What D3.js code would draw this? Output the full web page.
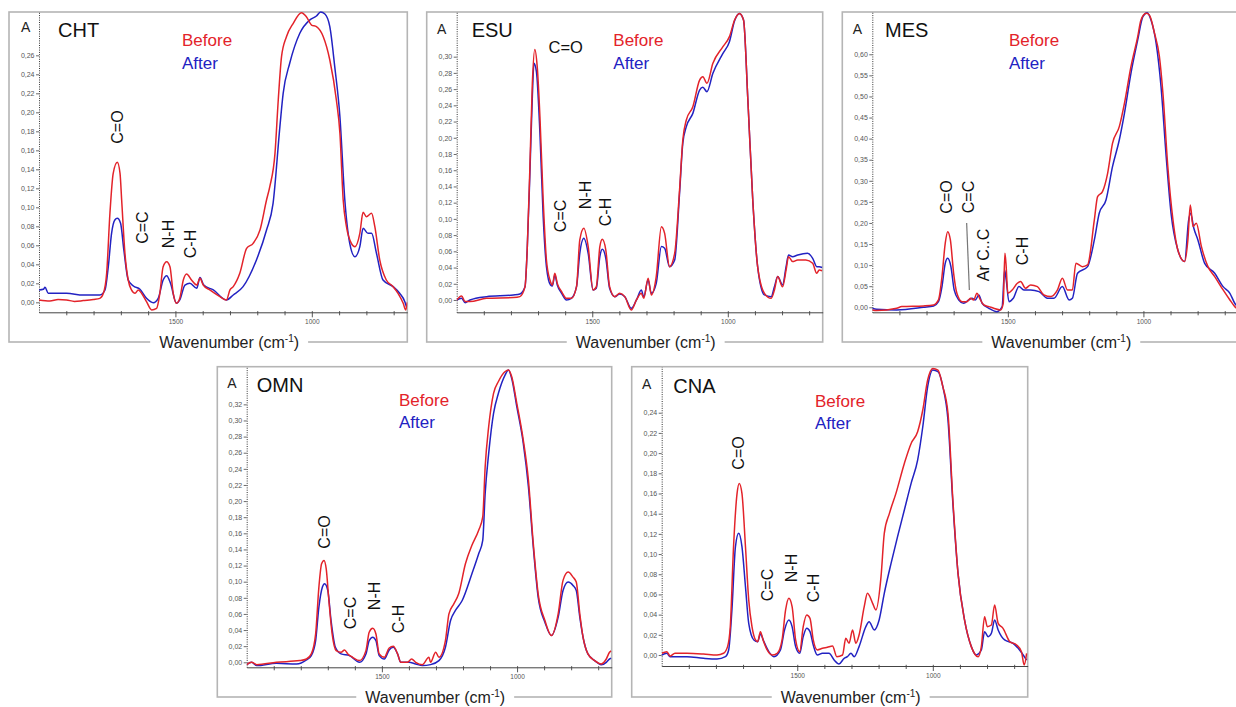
<!DOCTYPE html>
<html><head><meta charset="utf-8">
<script src="https://cdn.jsdelivr.net/npm/d3@7"></script>
<style>body{margin:0;background:#fff;} svg{display:block;font-family:"Liberation Sans",Arial,Helvetica,sans-serif;}</style>
</head><body><svg id="c" width="1236" height="707"></svg>
<script>
// ---------------- DATA (wavenumber cm-1, absorbance) ----------------
const chtBefore = [[2000,0.0025],[1960,0.0014],[1930,0.003],[1899,0.0025],[1870,0.001],[1838,0.0018],[1801,0.003],[1777,0.0042],[1764,0.0095],[1752,0.0305],[1740,0.0937],[1728,0.1358],[1713,0.1474],[1703,0.1358],[1697,0.1077],[1685,0.0516],[1673,0.0235],[1661,0.013],[1648,0.0095],[1636,0.013],[1624,0.0095],[1606,0.0007],[1587,-0.008],[1569,-0.0063],[1557,0.0095],[1545,0.0375],[1532,0.0428],[1520,0.0375],[1508,0.0095],[1496,-0.001],[1484,0.0042],[1471,0.0235],[1459,0.0298],[1441,0.0235],[1422,0.0182],[1410,0.0253],[1398,0.0182],[1374,0.013],[1337,0.006],[1313,0.0025],[1300,0.013],[1288,0.0165],[1264,0.0305],[1239,0.0568],[1215,0.0621],[1190,0.0761],[1166,0.1077],[1154,0.1218],[1135,0.1568],[1123,0.213],[1111,0.2586],[1093,0.2796],[1068,0.2937],[1038,0.3049],[1020,0.3007],[1001,0.2919],[983,0.2902],[958,0.2796],[934,0.2551],[910,0.213],[897,0.1779],[885,0.1077],[873,0.0796],[855,0.0621],[842,0.0586],[824,0.0726],[812,0.0947],[800,0.0902],[781,0.0937],[769,0.0796],[751,0.0446],[727,0.0235],[702,0.0165],[684,0.0095],[665,-0.001],[656,-0.008],[650,0.0]];
const chtAfter = [[2000,0.013],[1984,0.0137],[1978,0.0158],[1966,0.0095],[1899,0.0095],[1838,0.0077],[1777,0.0077],[1758,0.013],[1746,0.0375],[1734,0.0726],[1722,0.0867],[1713,0.0884],[1701,0.0832],[1689,0.0551],[1673,0.0235],[1654,0.0172],[1630,0.0137],[1606,0.0042],[1581,-0.0004],[1563,0.0042],[1545,0.0235],[1532,0.0281],[1518,0.02],[1496,-0.001],[1484,0.0025],[1465,0.0182],[1447,0.02],[1422,0.0147],[1410,0.026],[1396,0.0182],[1361,0.013],[1313,0.0025],[1288,0.0077],[1252,0.0165],[1203,0.0446],[1166,0.0761],[1142,0.1042],[1117,0.185],[1105,0.22],[1081,0.2516],[1044,0.2832],[1007,0.2973],[983,0.3014],[968,0.3056],[952,0.3035],[934,0.2902],[916,0.2481],[897,0.1954],[879,0.1077],[861,0.0621],[842,0.0481],[824,0.0586],[812,0.0779],[794,0.0726],[781,0.0726],[763,0.0516],[739,0.0235],[702,0.0165],[678,0.0095],[659,0.0007],[653,-0.0046]];

const esuBefore = [[2000,0],[1982,0.0049],[1969,-0.002],[1951,-0.002],[1890,0.002],[1791,0.0029],[1767,0.0041],[1748,0.0164],[1740,0.0616],[1730,0.1644],[1721,0.2671],[1712,0.309],[1703,0.2877],[1693,0.226],[1681,0.1233],[1669,0.0493],[1656,0.0247],[1647,0.0185],[1638,0.0329],[1629,0.0205],[1613,0.0103],[1595,0.002],[1577,0.002],[1558,0.0164],[1546,0.074],[1531,0.0884],[1515,0.0658],[1497,0.0123],[1485,0.0164],[1472,0.0658],[1463,0.0748],[1450,0.0616],[1436,0.0164],[1417,0.0041],[1399,0.0082],[1380,0.0041],[1356,-0.0123],[1337,0],[1319,0.0082],[1310,0.002],[1294,0.0267],[1282,0.0062],[1264,0.0288],[1245,0.0904],[1233,0.0822],[1215,0.0411],[1196,0.0575],[1178,0.1356],[1166,0.1973],[1153,0.2219],[1129,0.2384],[1104,0.2712],[1092,0.2753],[1077,0.2671],[1055,0.2918],[1018,0.3123],[994,0.3247],[975,0.3452],[957,0.3534],[942,0.3452],[926,0.2466],[908,0.1233],[890,0.0411],[865,0.0082],[840,0.002],[828,0.0123],[816,0.0288],[798,0.0164],[785,0.037],[776,0.0534],[761,0.0473],[742,0.0493],[712,0.0493],[687,0.0452],[672,0.0329],[663,0.037],[652,0.036]];
const esuAfter = [[2000,0],[1982,0.002],[1969,-0.0033],[1951,0],[1890,0.0041],[1791,0.0062],[1767,0.0074],[1748,0.0164],[1740,0.0616],[1730,0.1562],[1721,0.2507],[1715,0.2918],[1706,0.2815],[1693,0.2055],[1681,0.1027],[1669,0.0411],[1654,0.0185],[1647,0.0173],[1638,0.0308],[1629,0.0185],[1613,0.0082],[1595,0],[1577,0.002],[1558,0.0164],[1546,0.0575],[1531,0.076],[1515,0.0575],[1497,0.0123],[1485,0.0144],[1472,0.0534],[1463,0.0625],[1450,0.0514],[1436,0.0144],[1417,0.0041],[1399,0.0074],[1380,0.0041],[1356,-0.0103],[1337,0],[1319,0.0123],[1310,0.0041],[1294,0.0247],[1282,0.0082],[1264,0.0205],[1245,0.0658],[1233,0.0637],[1215,0.0411],[1196,0.0493],[1178,0.1315],[1166,0.1932],[1153,0.2137],[1129,0.2301],[1104,0.2589],[1092,0.2622],[1077,0.2569],[1055,0.2795],[1018,0.3041],[994,0.3185],[975,0.3444],[957,0.3534],[942,0.3452],[926,0.2466],[908,0.1233],[890,0.0411],[865,0.0062],[840,0.0041],[828,0.0164],[816,0.0288],[798,0.0185],[785,0.0411],[776,0.0555],[761,0.0534],[742,0.0555],[706,0.0575],[687,0.0514],[672,0.0411],[663,0.0411],[652,0.04]];

const mesBefore = [[2000,-0.0063],[1984,-0.0079],[1910,-0.0024],[1891,0.0016],[1811,0.0032],[1774,0.0055],[1756,0.0174],[1743,0.0727],[1731,0.1518],[1722,0.1794],[1712,0.1597],[1700,0.0806],[1688,0.0332],[1669,0.0134],[1651,0.0134],[1638,0.0213],[1626,0.0174],[1614,0.0332],[1604,0.0213],[1589,0.0055],[1570,0.0016],[1552,-0.0024],[1527,-0.0063],[1517,0.0095],[1511,0.1281],[1507,0.1043],[1500,0.0332],[1484,0.0411],[1465,0.0569],[1453,0.0609],[1435,0.0451],[1416,0.053],[1391,0.049],[1367,0.0292],[1342,0.0253],[1317,0.0411],[1299,0.0688],[1280,0.0411],[1262,0.0411],[1249,0.1043],[1225,0.0964],[1206,0.1004],[1181,0.2071],[1169,0.2625],[1151,0.2743],[1132,0.3178],[1114,0.3889],[1089,0.4285],[1070,0.4838],[1046,0.5708],[1021,0.6419],[1009,0.6814],[990,0.6972],[978,0.6933],[959,0.6498],[941,0.5945],[928,0.5075],[910,0.3336],[891,0.2071],[873,0.136],[848,0.1083],[836,0.1597],[827,0.2427],[817,0.1913],[805,0.1992],[786,0.1439],[762,0.0964],[737,0.0727],[706,0.0411],[681,0.0174],[663,0.0016],[650,-0.005]];
const mesAfter = [[2000,-0.0024],[1984,-0.0047],[1910,-0.0063],[1811,0],[1774,0.0032],[1756,0.0134],[1743,0.049],[1731,0.1043],[1722,0.1162],[1710,0.0964],[1698,0.0411],[1681,0.0174],[1663,0.0095],[1644,0.0174],[1632,0.0213],[1620,0.0174],[1607,0.0292],[1595,0.0095],[1570,-0.0024],[1540,-0.0103],[1521,0.0016],[1512,0.0885],[1506,0.0648],[1496,0.0134],[1480,0.0213],[1459,0.049],[1441,0.0411],[1416,0.0411],[1385,0.0372],[1354,0.0213],[1330,0.0213],[1299,0.049],[1274,0.0174],[1262,0.0213],[1243,0.0806],[1206,0.0964],[1181,0.1597],[1163,0.2229],[1138,0.2545],[1114,0.3336],[1089,0.3968],[1070,0.4601],[1046,0.5549],[1021,0.634],[1002,0.6893],[986,0.6988],[972,0.6814],[953,0.6261],[935,0.5233],[916,0.3573],[898,0.2229],[873,0.136],[848,0.1083],[833,0.2071],[826,0.2229],[814,0.1874],[799,0.1597],[774,0.1043],[737,0.0806],[706,0.049],[681,0.0332],[663,0.0095],[650,0.0]];

const omnBefore = [[2000,-0.0029],[1982,0],[1963,-0.0029],[1890,0],[1804,0.0021],[1779,0.0041],[1761,0.0104],[1745,0.0352],[1733,0.0933],[1723,0.1223],[1714,0.1264],[1706,0.1161],[1696,0.0767],[1684,0.0352],[1669,0.0145],[1651,0.0124],[1638,0.0153],[1626,0.0104],[1608,0.0062],[1583,0.0021],[1559,0.0145],[1547,0.0373],[1534,0.0423],[1522,0.0352],[1510,0.0104],[1491,0.0062],[1473,0.0178],[1458,0.0199],[1442,0.0104],[1430,0],[1406,0],[1390,0.0041],[1375,0],[1350,-0.0029],[1326,0.0062],[1320,0],[1301,0.0124],[1289,0.0062],[1265,0.0269],[1252,0.0601],[1234,0.0725],[1216,0.085],[1191,0.1223],[1167,0.1451],[1142,0.1638],[1127,0.1803],[1118,0.2425],[1105,0.2923],[1087,0.3337],[1069,0.3483],[1044,0.3607],[1032,0.3627],[1020,0.3545],[1001,0.3213],[977,0.2757],[958,0.226],[940,0.1472],[922,0.085],[897,0.0518],[873,0.0332],[848,0.0601],[830,0.1016],[811,0.1119],[793,0.1057],[781,0.0995],[768,0.0601],[756,0.0311],[738,0.0104],[713,0.0021],[689,-0.0021],[670,0.0041],[658,0.0124],[652,0.014]];
const omnAfter = [[2000,-0.0029],[1982,0],[1963,-0.0041],[1890,-0.0012],[1816,-0.0021],[1779,0.0029],[1761,0.0083],[1745,0.0269],[1733,0.0684],[1720,0.0933],[1712,0.0974],[1700,0.0891],[1688,0.0518],[1672,0.0187],[1651,0.0104],[1620,0.0083],[1583,0],[1559,0.0104],[1547,0.0269],[1534,0.0311],[1522,0.0269],[1510,0.0083],[1491,0.0041],[1473,0.0153],[1458,0.0187],[1442,0.0104],[1430,0],[1400,0],[1375,-0.0021],[1350,-0.0041],[1320,-0.0029],[1289,0.0021],[1265,0.0187],[1246,0.0518],[1228,0.0643],[1203,0.0767],[1167,0.1099],[1142,0.1347],[1127,0.1513],[1118,0.2094],[1105,0.2591],[1087,0.3089],[1069,0.3337],[1044,0.3565],[1032,0.3627],[1020,0.3524],[1001,0.3172],[977,0.2716],[958,0.2177],[940,0.143],[922,0.0808],[897,0.0497],[873,0.0332],[848,0.056],[830,0.0891],[811,0.0995],[793,0.0954],[781,0.0891],[768,0.056],[756,0.0311],[738,0.0104],[713,0.0021],[689,-0.0029],[670,0],[658,0.0041],[652,0.005]];

const cnaBefore = [[2000,0.0017],[1981,0.0033],[1969,-0.001],[1951,0.0017],[1907,0.0017],[1846,0.001],[1796,0],[1772,0.0017],[1757,0.0083],[1747,0.0281],[1735,0.1073],[1722,0.1601],[1714,0.17],[1704,0.1601],[1691,0.1073],[1679,0.0545],[1667,0.0281],[1654,0.0149],[1646,0.0132],[1636,0.0231],[1626,0.0149],[1611,0.005],[1593,0],[1574,0.0017],[1556,0.0149],[1543,0.0446],[1531,0.0561],[1519,0.0479],[1506,0.0149],[1491,0.0033],[1478,0.0281],[1465,0.0396],[1453,0.0363],[1441,0.0149],[1426,0.005],[1407,0.0066],[1389,0.0076],[1370,0.0089],[1354,-0.0017],[1333,0],[1321,0.0165],[1309,0.0116],[1296,0.0248],[1284,0.0116],[1272,0.0198],[1253,0.0479],[1241,0.0611],[1222,0.0512],[1210,0.0446],[1191,0.0776],[1179,0.1205],[1160,0.1403],[1136,0.1601],[1105,0.1898],[1080,0.2096],[1056,0.2212],[1037,0.2427],[1019,0.2724],[1000,0.2839],[981,0.2823],[963,0.2658],[944,0.2394],[926,0.1535],[907,0.0809],[883,0.0347],[858,0.0083],[833,-0.0017],[821,0.0083],[809,0.038],[799,0.0281],[784,0.0297],[772,0.0495],[759,0.0314],[741,0.0264],[716,0.0132],[691,0.0099],[673,0.0033],[663,-0.0099],[654,0.0017]];
const cnaAfter = [[2000,0],[1981,0.0017],[1969,-0.0017],[1907,-0.0017],[1846,-0.0033],[1796,-0.004],[1765,-0.0017],[1753,0.005],[1741,0.0446],[1728,0.1073],[1716,0.1205],[1704,0.1073],[1691,0.0677],[1679,0.0314],[1660,0.0149],[1646,0.0132],[1636,0.0208],[1623,0.0132],[1605,0.0033],[1586,-0.0017],[1562,0.005],[1547,0.0248],[1531,0.0347],[1519,0.0281],[1506,0.0083],[1491,0.0017],[1478,0.0182],[1465,0.0264],[1453,0.0231],[1441,0.0099],[1426,0],[1407,0.0017],[1383,0.0017],[1364,-0.005],[1346,-0.0089],[1327,-0.0033],[1315,-0.0017],[1302,0.0017],[1290,-0.0017],[1272,0.0083],[1247,0.0281],[1235,0.033],[1216,0.0248],[1198,0.0347],[1179,0.0611],[1154,0.0908],[1130,0.1172],[1105,0.1436],[1080,0.17],[1056,0.1931],[1037,0.2261],[1019,0.2658],[1000,0.2823],[981,0.2806],[963,0.2658],[944,0.2327],[926,0.1502],[907,0.0809],[883,0.0347],[858,0.0083],[840,0],[821,0.005],[809,0.0231],[796,0.0182],[784,0.0215],[772,0.0347],[759,0.0248],[735,0.0149],[704,0.0116],[680,0.005],[654,-0.005]];

// tick values
const xTickValues = [2000,1900,1800,1700,1600,1500,1400,1300,1200,1100,1000,900,800,700];
const xTickLabels = [1500,1000];
const chtYTicks = [0,0.02,0.04,0.06,0.08,0.10,0.12,0.14,0.16,0.18,0.20,0.22,0.24,0.26];
const esuYTicks = [0,0.02,0.04,0.06,0.08,0.10,0.12,0.14,0.16,0.18,0.20,0.22,0.24,0.26,0.28,0.30];
const mesYTicks = [0,0.05,0.10,0.15,0.20,0.25,0.30,0.35,0.40,0.45,0.50,0.55,0.60];
const omnYTicks = [0,0.02,0.04,0.06,0.08,0.10,0.12,0.14,0.16,0.18,0.20,0.22,0.24,0.26,0.28,0.30,0.32];
const cnaYTicks = [0,0.02,0.04,0.06,0.08,0.10,0.12,0.14,0.16,0.18,0.20,0.22,0.24];

// peak labels [text, wavenumber, absorbance, rotated]
const chtPeaks = [["C=O",1714,0.1845,true],["C=C",1622,0.0787,true],["N-H",1527,0.0719,true],["C-H",1443,0.0614,true]];
const esuPeaks = [["C=O",1598,0.3045,false],["C=C",1616,0.1036,true],["N-H",1524,0.1295,true],["C-H",1450,0.1085,true]];
const mesPeaks = [["C=O",1726,0.2616,true],["C=C",1646,0.2616,true],["Ar C..C",1591,0.124,true],["C-H",1445,0.1335,true]];
const omnPeaks = [["C=O",1713,0.1617,true],["C=C",1615,0.0612,true],["N-H",1529,0.0823,true],["C-H",1439,0.0537,true]];
const cnaPeaks = [["C=O",1715,0.2001,true],["C=C",1610,0.0693,true],["N-H",1520,0.0862,true],["C-H",1441,0.0664,true]];
const mesLeader = [[1652,0.1999],[1642,0.041]];

const sampleNames = ["CHT","ESU","MES","OMN","CNA"];

// ---------------- LAYOUT (pixels) ----------------
const layouts = [
  {frame:[9,12,407.3,342], axisX:39, axisY:312.3, yDom:[-0.0105,0.3056], a:[12,20], t:[49,25.3], leg:[173,34,57]},
  {frame:[426.7,12,822.7,342], axisX:456.7, axisY:312.3, yDom:[-0.0152,0.3551], a:[10.3,22], t:[45,25.3], leg:[186.6,34,57]},
  {frame:[842.3,12,1238.3,342], axisX:872.3, axisY:312.3, yDom:[-0.0119,0.7003], a:[10.4,22], t:[42.7,25.3], leg:[166.7,34,57]},
  {frame:[217.3,366.7,611.7,697], axisX:246.7, axisY:667.3, yDom:[-0.0062,0.3667], a:[10,21.5], t:[39.4,25.5], leg:[181.7,39,61.3]},
  {frame:[631.7,366.7,1027.7,697], axisX:661.7, axisY:666, yDom:[-0.0109,0.2856], a:[10.3,22.3], t:[41.6,26], leg:[183.3,40,62.6]}
];

const panels = [
  {name:sampleNames[0], before:chtBefore, after:chtAfter, yTicks:chtYTicks, peaks:chtPeaks},
  {name:sampleNames[1], before:esuBefore, after:esuAfter, yTicks:esuYTicks, peaks:esuPeaks},
  {name:sampleNames[2], before:mesBefore, after:mesAfter, yTicks:mesYTicks, peaks:mesPeaks, leader:mesLeader},
  {name:sampleNames[3], before:omnBefore, after:omnAfter, yTicks:omnYTicks, peaks:omnPeaks},
  {name:sampleNames[4], before:cnaBefore, after:cnaAfter, yTicks:cnaYTicks, peaks:cnaPeaks}
];

const RED = "#e3232a", BLUE = "#2222c2";
const svg = d3.select("#c");
const defs = svg.append("defs");
const fmt = d => d3.format(".2f")(d).replace(".", ",");

panels.forEach((p, i) => {
  const L = layouts[i];
  const [fx0, fy0, fx1, fy1] = L.frame;
  const x = d3.scaleLinear().domain([2000, 650]).range([L.axisX, fx1]);
  const y = d3.scaleLinear().domain(L.yDom).range([L.axisY, fy0]);
  const g = svg.append("g");

  // frame
  g.append("rect").attr("x", fx0).attr("y", fy0).attr("width", fx1 - fx0).attr("height", fy1 - fy0)
    .attr("fill", "#fff").attr("stroke", "#b5b5b5").attr("stroke-width", 1.6);

  // y axis (dotted)
  const ya = g.append("g").attr("transform", `translate(${L.axisX},0)`)
    .call(d3.axisLeft(y).tickValues(p.yTicks).tickSize(3).tickSizeOuter(0).tickPadding(1.5).tickFormat(fmt));
  ya.select(".domain").attr("stroke", "#333").attr("stroke-width", 1).attr("stroke-dasharray", "1,1.3");
  ya.selectAll(".tick line").attr("stroke", "#444").attr("stroke-width", 0.8);
  ya.selectAll(".tick text").attr("font-size", 7).attr("fill", "#555").attr("font-family", "Liberation Sans, Arial, sans-serif");

  // x axis
  const xa = g.append("g").attr("transform", `translate(0,${L.axisY})`)
    .call(d3.axisBottom(x).tickValues(xTickValues).tickSize(3).tickSizeOuter(0).tickPadding(4)
      .tickFormat(d => xTickLabels.includes(d) ? d : ""));
  xa.select(".domain").attr("stroke", "#444").attr("stroke-width", 1);
  xa.selectAll(".tick line").attr("stroke", "#444").attr("stroke-width", 0.9).attr("y1", -1.2);
  xa.selectAll(".tick").filter(d => xTickLabels.includes(d)).select("line").attr("y2", 5);
  xa.selectAll(".tick").filter(d => d === 2000).remove();
  xa.selectAll(".tick text").attr("font-size", 6.5).attr("fill", "#555").attr("font-family", "Liberation Sans, Arial, sans-serif");

  // clip
  const cid = "clip" + i;
  defs.append("clipPath").attr("id", cid).append("rect")
    .attr("x", L.axisX).attr("y", fy0 - 1).attr("width", fx1 - L.axisX).attr("height", L.axisY - fy0 + 3);

  const line = d3.line().x(d => x(d[0])).y(d => y(d[1])).curve(d3.curveMonotoneX);
  g.append("path").datum(p.after).attr("d", line).attr("fill", "none").attr("stroke", BLUE)
    .attr("stroke-width", 1.5).attr("stroke-linejoin", "round").attr("clip-path", `url(#${cid})`);
  g.append("path").datum(p.before).attr("d", line).attr("fill", "none").attr("stroke", RED)
    .attr("stroke-width", 1.5).attr("stroke-linejoin", "round").attr("clip-path", `url(#${cid})`);

  // "A" and sample name
  g.append("text").attr("x", fx0 + L.a[0]).attr("y", fy0 + L.a[1]).attr("font-size", 14).attr("fill", "#222").text("A");
  g.append("text").attr("x", fx0 + L.t[0]).attr("y", fy0 + L.t[1]).attr("font-size", 20).attr("fill", "#111").text(p.name);
  g.append("text").attr("x", fx0 + L.leg[0]).attr("y", fy0 + L.leg[1]).attr("font-size", 17).attr("fill", RED).text("Before");
  g.append("text").attr("x", fx0 + L.leg[0]).attr("y", fy0 + L.leg[2]).attr("font-size", 17).attr("fill", BLUE).text("After");

  // peak labels
  p.peaks.forEach(([t, wn, a, rot]) => {
    if (rot) {
      g.append("text").attr("transform", `translate(${x(wn)},${y(a)}) rotate(-90)`)
        .attr("text-anchor", "middle").attr("dominant-baseline", "central")
        .attr("font-size", 16).attr("fill", "#111").text(t);
    } else {
      g.append("text").attr("x", x(wn)).attr("y", y(a)).attr("text-anchor", "middle")
        .attr("font-size", 16.5).attr("fill", "#111").text(t);
    }
  });
  if (p.leader) {
    g.append("line").attr("x1", x(p.leader[0][0])).attr("y1", y(p.leader[0][1]))
      .attr("x2", x(p.leader[1][0])).attr("y2", y(p.leader[1][1]))
      .attr("stroke", "#777").attr("stroke-width", 1.2);
  }

  // x-axis title over frame bottom
  const cx = (L.axisX + fx1) / 2 + 6;
  const tg = g.append("g");
  const bg = tg.append("rect").attr("fill", "#fff");
  const tt = tg.append("text").attr("x", cx).attr("y", fy1 + 5.5).attr("text-anchor", "middle")
    .attr("font-size", 16).attr("fill", "#222");
  tt.append("tspan").text("Wavenumber (cm");
  tt.append("tspan").attr("font-size", 10).attr("dy", -6).text("-1");
  tt.append("tspan").attr("dy", 6).text(")");
  const bb = tt.node().getBBox();
  bg.attr("x", bb.x - 9).attr("y", fy1 - 3).attr("width", bb.width + 18).attr("height", 6);
});
</script>
</body></html>
